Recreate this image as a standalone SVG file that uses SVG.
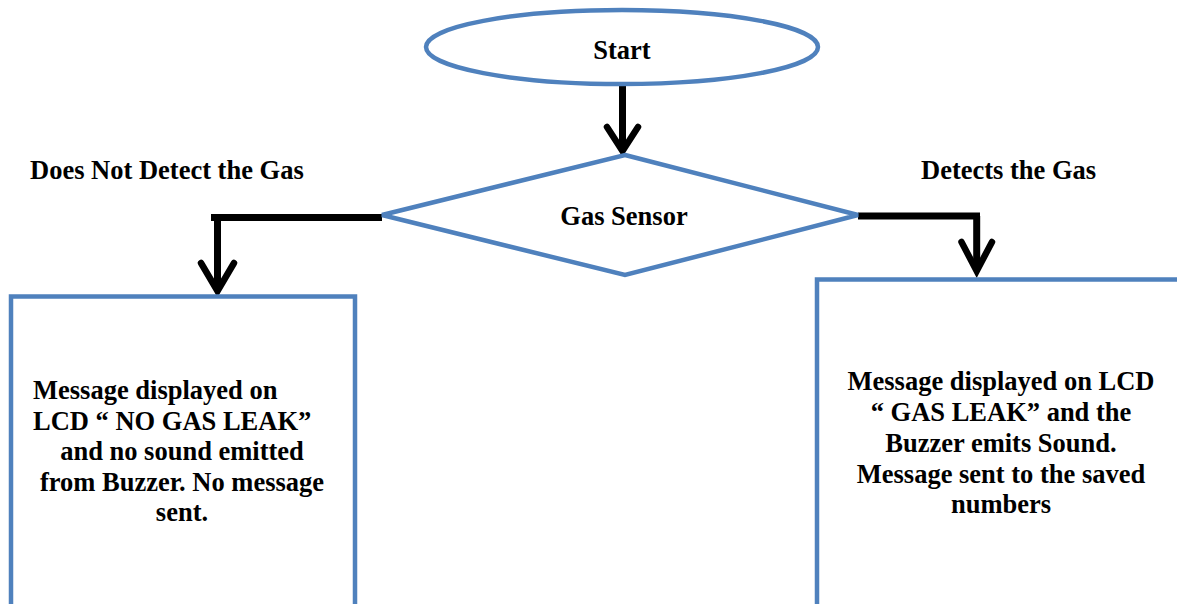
<svg xmlns="http://www.w3.org/2000/svg" width="1177" height="604" viewBox="0 0 1177 604">
<style>
.shape{fill:#ffffff;stroke:#4f81bd;stroke-width:4.5}
.box{fill:none;stroke:#4f81bd;stroke-width:4.5}
.conn{fill:none;stroke:#000000;stroke-width:7;stroke-linecap:butt;stroke-linejoin:miter}
.head{fill:none;stroke:#000000;stroke-width:6.5;stroke-linecap:round;stroke-linejoin:miter}
text{font-family:"Liberation Serif","Times New Roman",serif;font-weight:bold;font-size:26.5px;fill:#000000}
.c{text-anchor:middle}
</style>
<rect width="1177" height="604" fill="#ffffff"/>
<g id="connectors">
  <path class="conn" d="M622.5 84 V148"/>
  <path class="head" d="M607 127 L622.5 151 L638 127"/>
  <path class="conn" d="M382 217.5 H211 M217.5 217.5 V289"/>
  <path class="head" d="M201 263 L217.5 291 L234 263"/>
  <path class="conn" d="M858 216 H980 M976.7 216 V269"/>
  <path class="head" d="M961.5 242 L976.7 271 L992 242"/>
</g>
<g id="start">
  <ellipse class="shape" cx="622" cy="47" rx="196" ry="37"/>
  <text class="c" x="622" y="59">Start</text>
</g>
<g id="gas-sensor">
  <polygon class="shape" points="625,155 858,215 625,275 382,215"/>
  <text class="c" x="624" y="225">Gas Sensor</text>
</g>
<g id="label-no">
  <text x="30" y="179">Does Not Detect the Gas</text>
</g>
<g id="label-yes">
  <text x="921" y="179">Detects the Gas</text>
</g>
<g id="no-leak">
  <path class="box" d="M11 610 V296.5 H355 V610"/>
  <text x="33" y="399">Message displayed on</text>
  <text x="33" y="429.5">LCD “ NO GAS LEAK”</text>
  <text class="c" x="182" y="460">and no sound emitted</text>
  <text class="c" x="182" y="490.5">from Buzzer. No message</text>
  <text class="c" x="182" y="521">sent.</text>
</g>
<g id="leak">
  <path class="box" d="M817 610 V279.5 H1185"/>
  <text class="c" x="1001" y="390">Message displayed on LCD</text>
  <text class="c" x="1001" y="421">“ GAS LEAK” and the</text>
  <text class="c" x="1001" y="452">Buzzer emits Sound.</text>
  <text class="c" x="1001" y="483">Message sent to the saved</text>
  <text class="c" x="1001" y="513">numbers</text>
</g>
</svg>
